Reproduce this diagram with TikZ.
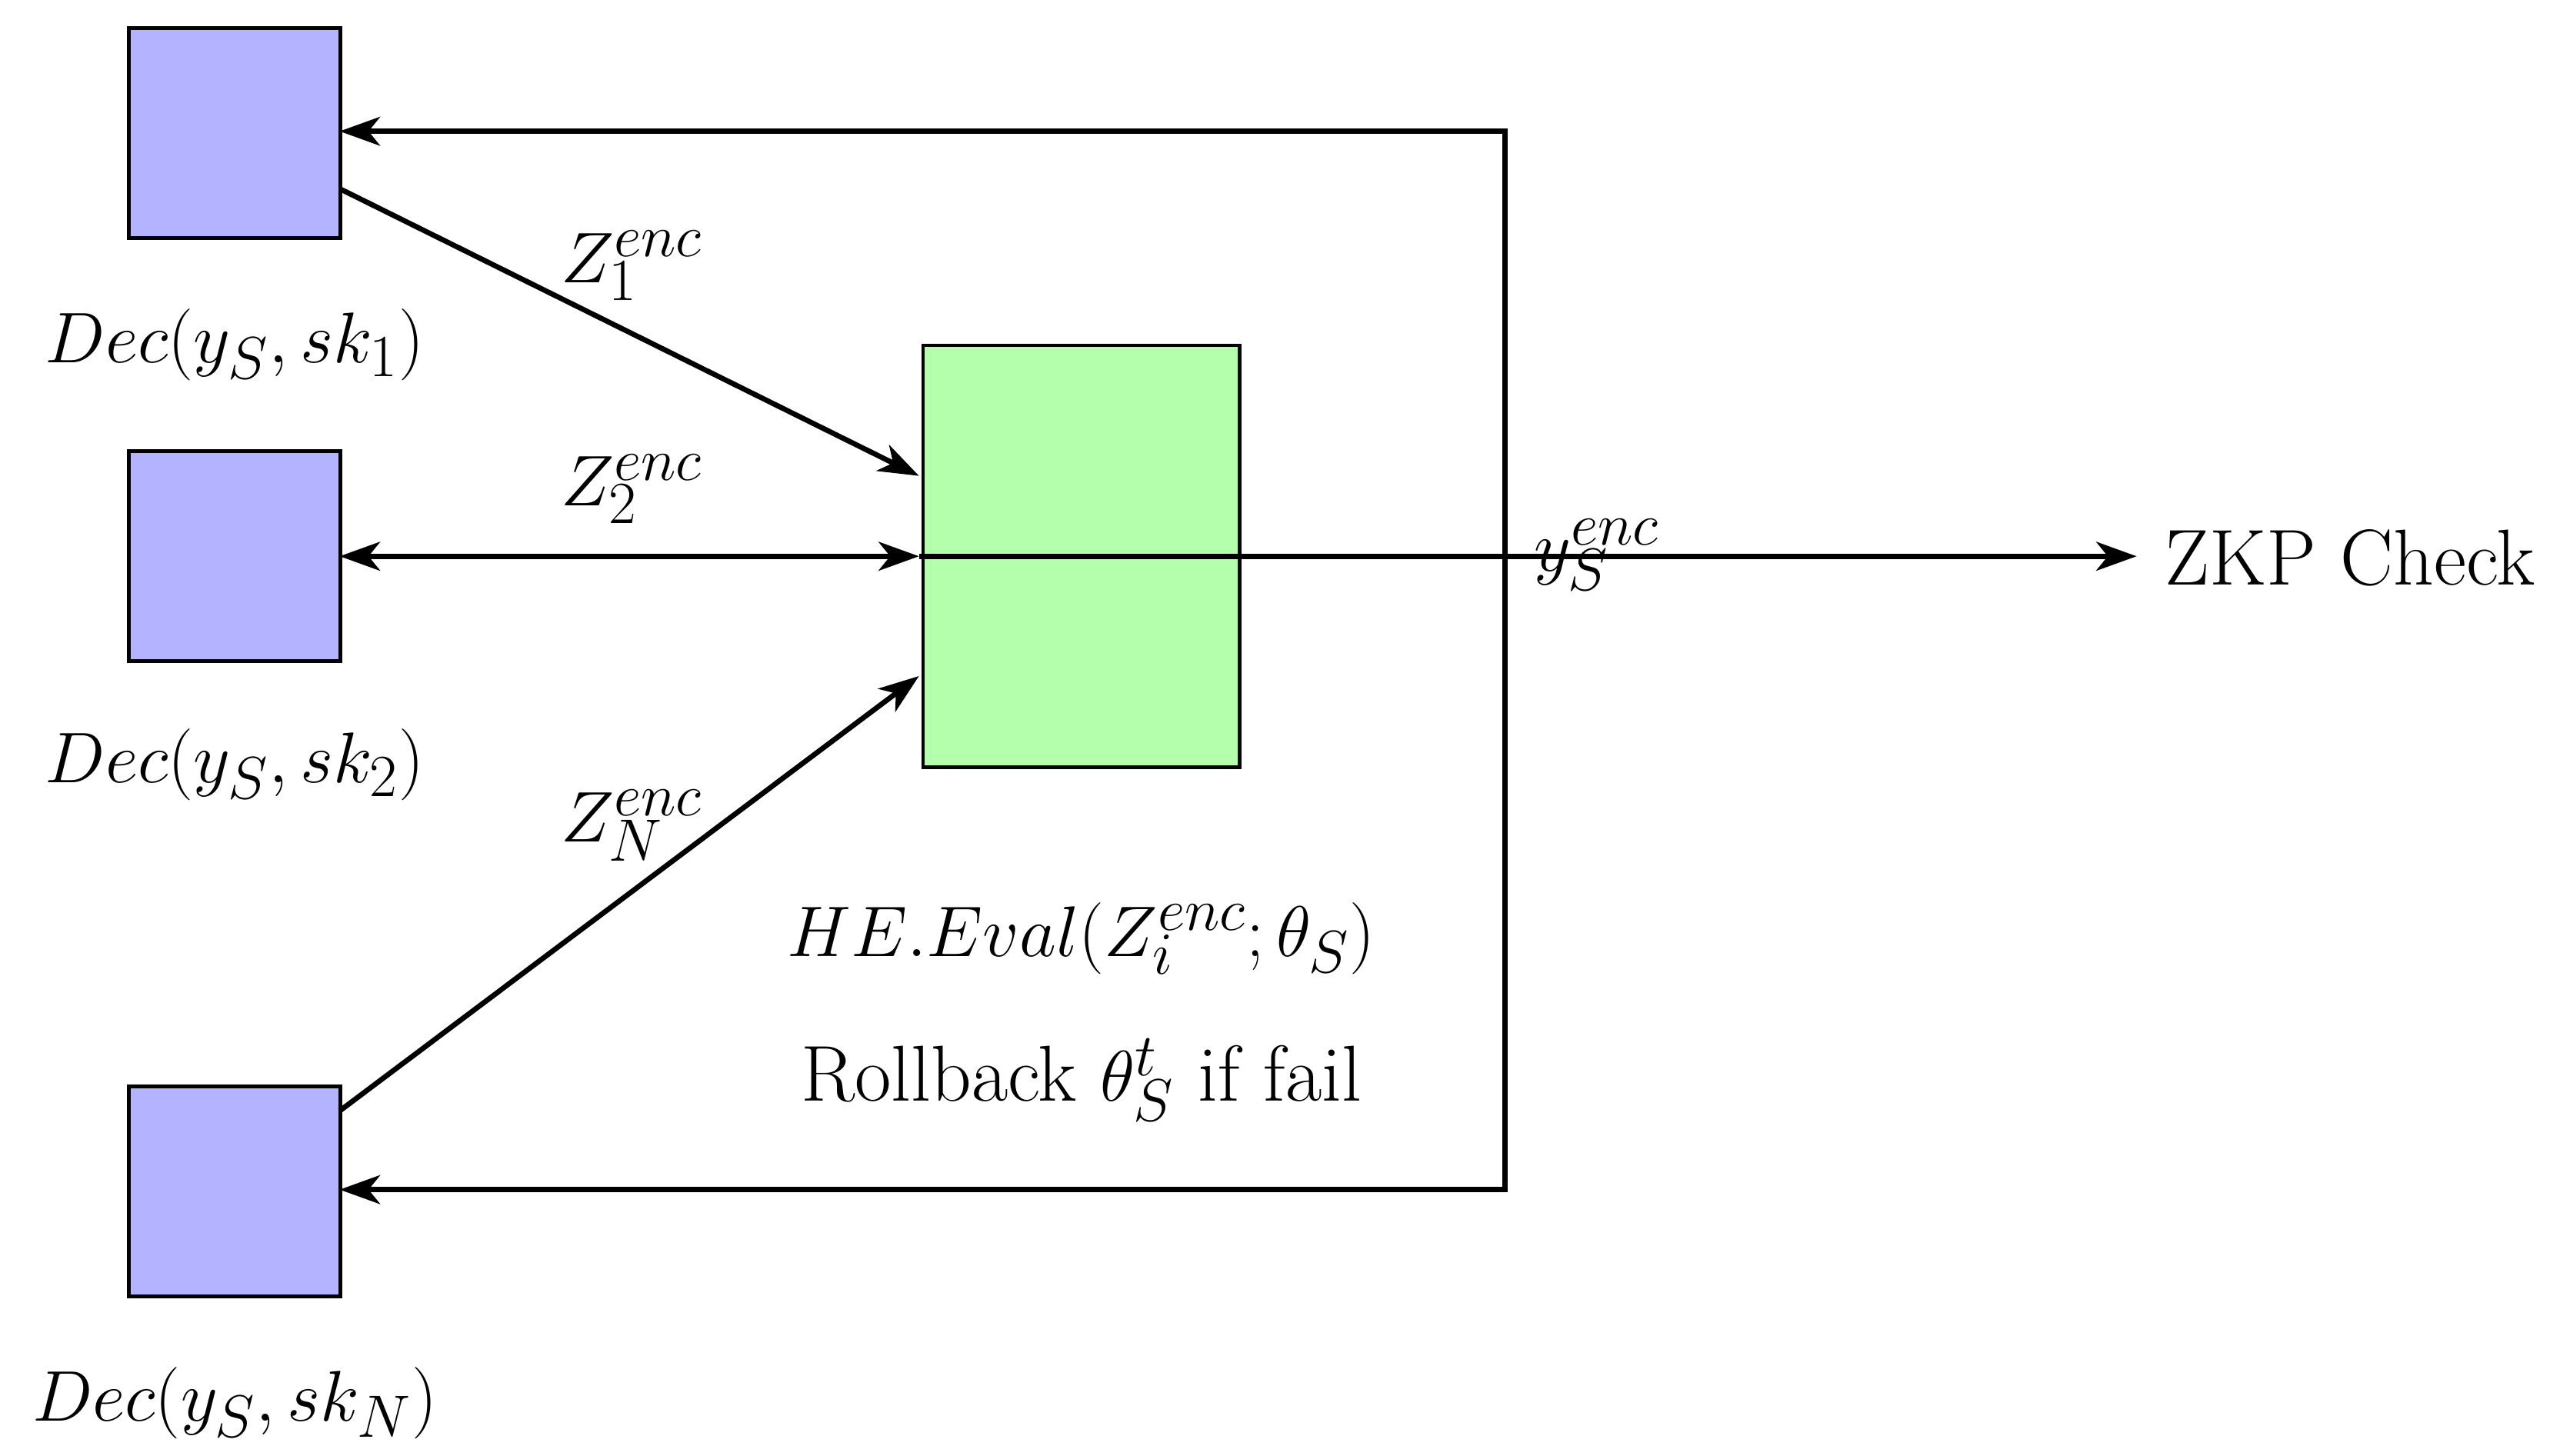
\documentclass[tikz,border=0pt]{standalone}
\usetikzlibrary{arrows.meta}
\begin{document}
\begin{tikzpicture}[x=0.02cm,y=-0.02cm,
  every node/.style={font=\fontsize{27.5}{33}\selectfont},
  blue box/.style={draw=black,line width=1.2pt,fill={rgb,255:red,179;green,179;blue,255},minimum width=2.58cm,minimum height=2.56cm,inner sep=0pt},
  green box/.style={draw=black,line width=1.2pt,fill={rgb,255:red,179;green,255;blue,171},minimum width=3.86cm,minimum height=5.14cm,inner sep=0pt},
  conn/.style={line width=1.8pt,-{Stealth[length=14pt,width=10pt,inset=4pt]}}]
\useasboundingbox (0,0) rectangle (1560,887);
\node[blue box] (b1) at (143,81) {};
\node[blue box] (b2) at (143,339) {};
\node[blue box] (b3) at (143,726) {};
\node[green box] (g) at (659,339) {};
\node (l1) at (143,210) {$Dec(y_S,sk_1)$};
\node (l2) at (143,466) {$Dec(y_S,sk_2)$};
\node (l3) at (143,855) {$Dec(y_S,sk_N)$};
\coordinate (g1) at (560,290);
\coordinate (g2) at (560,339);
\coordinate (g3) at (560,412);
\coordinate (b1o) at (207,115);
\coordinate (b2o) at (207,339);
\coordinate (b3o) at (207,677);
\coordinate (b1i) at (207,80);
\coordinate (b3i) at (207,725);
\coordinate (fb) at (917,339);
\coordinate (fb1) at (917,80);
\coordinate (fb3) at (917,725);
\node (zkp) at (1432,340) {ZKP Check};
\coordinate (zkpi) at (1302,339);
\draw[conn] (b1o) -- (g1);
\draw[conn,{Stealth[length=14pt,width=10pt,inset=4pt]}-{Stealth[length=14pt,width=10pt,inset=4pt]}] (b2o) -- (g2);
\draw[conn] (b3o) -- (g3);
\draw[conn] (g2) -- (zkpi);
\draw[conn] (fb) -- (fb1) -- (b1i);
\draw[conn] (fb) -- (fb3) -- (b3i);
\node at (385,162) {$Z_1^{enc}$};
\node at (385,298) {$Z_2^{enc}$};
\node at (385,503) {$Z_N^{enc}$};
\node at (973,338) {$y_S^{enc}$};
\node at (659,572) {$HE.Eval(Z_i^{enc};\theta_S)$};
\node at (659,658) {Rollback $\theta_S^t$ if fail};
\end{tikzpicture}
\end{document}
